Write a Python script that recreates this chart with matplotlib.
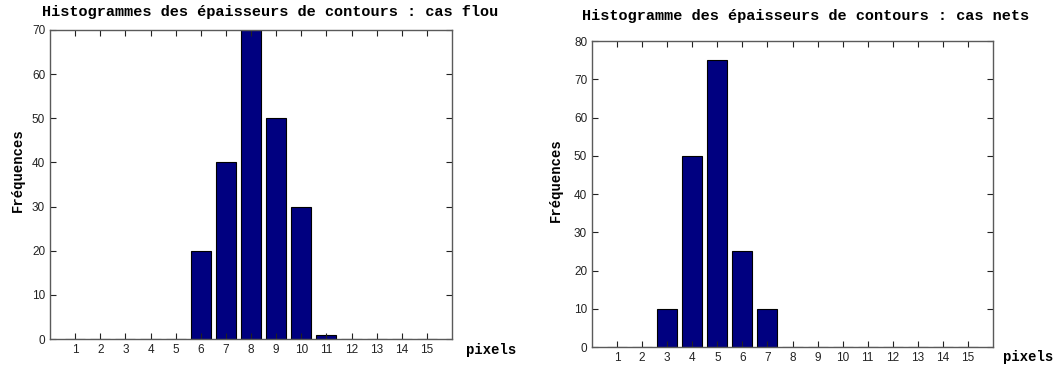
import numpy as np
import matplotlib.pyplot as plt

# thickness values (pixels) and frequencies
pixels = list(range(1, 16))
flou = [0, 0, 0, 0, 0, 20, 40, 70, 50, 30, 1, 0, 0, 0, 0]
nets = [0, 0, 10, 50, 75, 25, 10, 0, 0, 0, 0, 0, 0, 0, 0]

TITLE_FLOU = "Histogrammes des épaisseurs de contours : cas flou"
TITLE_NETS = "Histogramme des épaisseurs de contours : cas nets"

W, H = 1061, 366
fig = plt.figure(figsize=(W / 100, H / 100), dpi=100)

mono = {"family": "Liberation Mono", "weight": "bold"}
bar_color = "#000080"
spine_color = "#5a5a5a"


def px_axes(left, top, right, bottom):
    return fig.add_axes([left / W, 1 - bottom / H, (right - left) / W, (bottom - top) / H])


def draw(ax, values, ymax):
    ax.bar(pixels, values, width=0.8, color=bar_color, edgecolor="black", linewidth=0.8)
    ax.set_xlim(0, 16)
    ax.set_ylim(0, ymax)
    ax.set_xticks(pixels)
    ax.set_yticks(np.arange(0, ymax + 1, 10))
    ax.tick_params(direction="in", length=4, top=True, right=True,
                   labelsize=8.5, colors="#222222", width=0.8)
    for lbl in ax.get_xticklabels() + ax.get_yticklabels():
        lbl.set_family("Liberation Sans")
    for s in ax.spines.values():
        s.set_color(spine_color)
        s.set_linewidth(1.0)


ax1 = px_axes(50, 30, 452, 339)
draw(ax1, flou, 70)
ax2 = px_axes(592, 41, 993, 347)
draw(ax2, nets, 80)

fig.text(270 / W, 1 - 12 / H, TITLE_FLOU, ha="center", va="center", fontsize=11, **mono)
fig.text(806 / W, 1 - 16 / H, TITLE_NETS, ha="center", va="center", fontsize=11, **mono)
fig.text(491 / W, 1 - 350 / H, "pixels", ha="center", va="center", fontsize=10, **mono)
fig.text(1028 / W, 1 - 357 / H, "pixels", ha="center", va="center", fontsize=10, **mono)
fig.text(18 / W, 1 - 170 / H, "Fréquences", ha="center", va="center", rotation=90,
         fontsize=10, **mono)
fig.text(556 / W, 1 - 180 / H, "Fréquences", ha="center", va="center", rotation=90,
         fontsize=10, **mono)

fig.savefig("out.png", dpi=100)
